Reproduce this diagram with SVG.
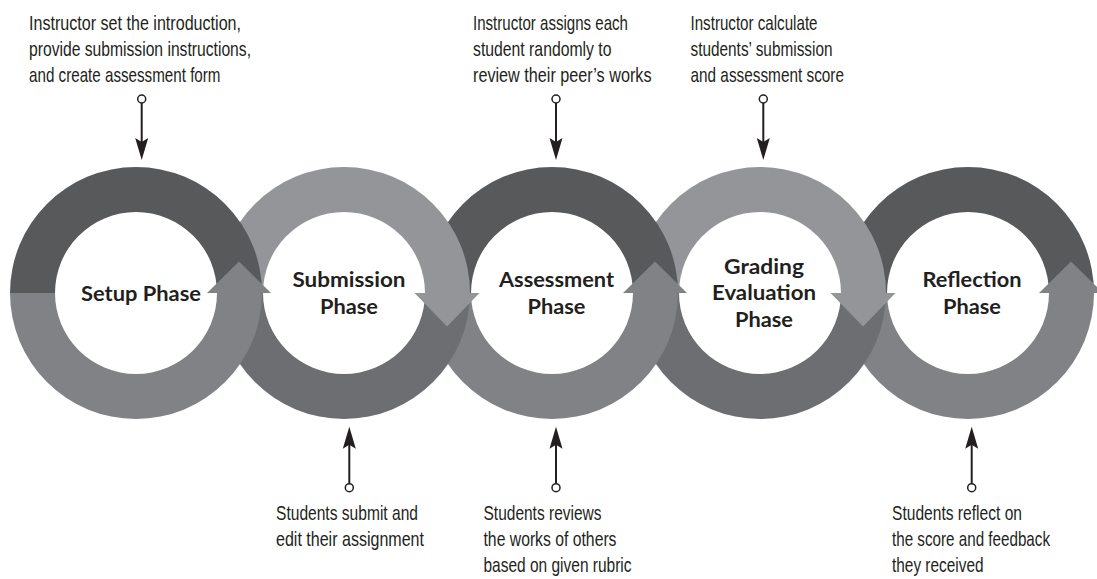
<svg xmlns="http://www.w3.org/2000/svg" width="1097" height="579" viewBox="0 0 1097 579">
  <defs>
    <style>
      .dark{fill:#58595b}
      .mid{fill:#808285}
      .light{fill:#939598}
      .deep{fill:#6d6e71}
      .label{font-family:Lato,"Open Sans",sans-serif;font-weight:700;font-size:21px;fill:#231f20;text-anchor:middle}
      .note{font-family:"Liberation Sans Narrow","Liberation Sans",Arial,sans-serif;font-size:21px;fill:#231f20}
      .wire{stroke:#231f20;stroke-width:2;fill:none}
      .dot{fill:#fff;stroke:#231f20;stroke-width:1.5}
    </style>
    <!-- half rings centred on the origin -->
    <path id="ring-top" d="M-126,0 A126,126 0 0 1 126,0 L81,0 A81,81 0 0 0 -81,0 Z"/>
    <path id="ring-bottom" d="M126,0 A126,126 0 0 1 -126,0 L-81,0 A81,81 0 0 0 81,0 Z"/>
    <!-- arrowheads on the right side of a ring -->
    <path id="head-up" d="M71,0 L103,-31.5 L135,0 Z"/>
    <path id="head-down" d="M70.5,0 L103,33.5 L135.5,0 Z"/>
    <marker id="arrow" markerUnits="userSpaceOnUse" markerWidth="30" markerHeight="20" refX="10" refY="0" orient="auto" overflow="visible">
      <path d="M22,0 L0,-6.5 L4,0 L0,6.5 Z" fill="#231f20"/>
    </marker>
  </defs>

  <rect width="1097" height="579" fill="#fff"/>

  <!-- phases, drawn right to left so each ring overlaps the next one -->
  <g id="reflection-phase" transform="translate(968,293)">
    <use href="#ring-top" class="dark"/>
    <use href="#ring-bottom" class="mid"/>
    <use href="#head-up" class="mid"/>
    <text class="label" x="4" y="-6" textLength="99" lengthAdjust="spacingAndGlyphs">Reflection</text>
    <text class="label" x="4" y="21" textLength="58" lengthAdjust="spacingAndGlyphs">Phase</text>
  </g>

  <g id="grading-evaluation-phase" transform="translate(760,293)">
    <use href="#ring-top" class="light"/>
    <use href="#ring-bottom" class="deep"/>
    <use href="#head-down" class="light"/>
    <text class="label" x="4" y="-19.5" textLength="80" lengthAdjust="spacingAndGlyphs">Grading</text>
    <text class="label" x="4" y="7" textLength="104" lengthAdjust="spacingAndGlyphs">Evaluation</text>
    <text class="label" x="4" y="34" textLength="58" lengthAdjust="spacingAndGlyphs">Phase</text>
  </g>

  <g id="assessment-phase" transform="translate(552,293)">
    <use href="#ring-top" class="dark"/>
    <use href="#ring-bottom" class="mid"/>
    <use href="#head-up" class="mid"/>
    <text class="label" x="4.5" y="-6" textLength="115" lengthAdjust="spacingAndGlyphs">Assessment</text>
    <text class="label" x="4.5" y="21" textLength="58" lengthAdjust="spacingAndGlyphs">Phase</text>
  </g>

  <g id="submission-phase" transform="translate(344,293)">
    <use href="#ring-top" class="light"/>
    <use href="#ring-bottom" class="deep"/>
    <use href="#head-down" class="light"/>
    <text class="label" x="5" y="-6" textLength="113" lengthAdjust="spacingAndGlyphs">Submission</text>
    <text class="label" x="5" y="21" textLength="58" lengthAdjust="spacingAndGlyphs">Phase</text>
  </g>

  <g id="setup-phase" transform="translate(136,293)">
    <use href="#ring-top" class="dark"/>
    <use href="#ring-bottom" class="mid"/>
    <use href="#head-up" class="mid"/>
    <text class="label" x="5" y="7.5" textLength="120" lengthAdjust="spacingAndGlyphs">Setup Phase</text>
  </g>

  <!-- pointers from the notes to the rings -->
  <g id="connectors">
    <path class="wire" d="M141.7,103 V148" marker-end="url(#arrow)"/>
    <circle class="dot" cx="141.7" cy="99" r="4"/>
    <path class="wire" d="M556,103 V148" marker-end="url(#arrow)"/>
    <circle class="dot" cx="556" cy="99" r="4"/>
    <path class="wire" d="M763.3,103 V148" marker-end="url(#arrow)"/>
    <circle class="dot" cx="763.3" cy="99" r="4"/>
    <path class="wire" d="M349.3,483.7 V438.7" marker-end="url(#arrow)"/>
    <circle class="dot" cx="349.3" cy="487.7" r="4"/>
    <path class="wire" d="M556,483.7 V438.7" marker-end="url(#arrow)"/>
    <circle class="dot" cx="556" cy="487.7" r="4"/>
    <path class="wire" d="M971.7,483.7 V438.7" marker-end="url(#arrow)"/>
    <circle class="dot" cx="971.7" cy="487.7" r="4"/>
  </g>

  <!-- notes -->
  <g id="note-setup" class="note">
    <text x="29" y="30" textLength="212" lengthAdjust="spacingAndGlyphs">Instructor set the introduction,</text>
    <text x="29" y="56" textLength="222" lengthAdjust="spacingAndGlyphs">provide submission instructions,</text>
    <text x="29" y="82" textLength="191.5" lengthAdjust="spacingAndGlyphs">and create assessment form</text>
  </g>
  <g id="note-assign" class="note">
    <text x="473" y="30" textLength="155" lengthAdjust="spacingAndGlyphs">Instructor assigns each</text>
    <text x="473" y="56" textLength="138.5" lengthAdjust="spacingAndGlyphs">student randomly to</text>
    <text x="473" y="82" textLength="178.5" lengthAdjust="spacingAndGlyphs">review their peer’s works</text>
  </g>
  <g id="note-grading" class="note">
    <text x="690.5" y="30" textLength="127" lengthAdjust="spacingAndGlyphs">Instructor calculate</text>
    <text x="690.5" y="56" textLength="142" lengthAdjust="spacingAndGlyphs">students’ submission</text>
    <text x="690.5" y="82" textLength="153.5" lengthAdjust="spacingAndGlyphs">and assessment score</text>
  </g>
  <g id="note-submit" class="note">
    <text x="276" y="520" textLength="142" lengthAdjust="spacingAndGlyphs">Students submit and</text>
    <text x="276" y="546" textLength="148" lengthAdjust="spacingAndGlyphs">edit their assignment</text>
  </g>
  <g id="note-review" class="note">
    <text x="483.5" y="520" textLength="118" lengthAdjust="spacingAndGlyphs">Students reviews</text>
    <text x="483.5" y="546" textLength="133" lengthAdjust="spacingAndGlyphs">the works of others</text>
    <text x="483.5" y="572" textLength="148" lengthAdjust="spacingAndGlyphs">based on given rubric</text>
  </g>
  <g id="note-reflect" class="note">
    <text x="892" y="520" textLength="130" lengthAdjust="spacingAndGlyphs">Students reflect on</text>
    <text x="892" y="546" textLength="158" lengthAdjust="spacingAndGlyphs">the score and feedback</text>
    <text x="892" y="572" textLength="91.5" lengthAdjust="spacingAndGlyphs">they received</text>
  </g>
</svg>
